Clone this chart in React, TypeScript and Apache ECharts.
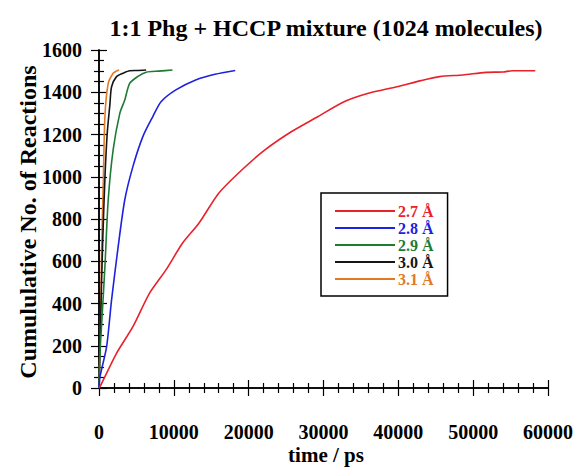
import React, { useEffect, useRef } from "react";
import * as echarts from "echarts";

const seriesNames = ["2.7 Å", "2.8 Å", "2.9 Å", "3.0 Å", "3.1 Å"];
const seriesColors = ["#e8212b", "#1c22e0", "#1f7a34", "#151515", "#e07a26"];

const t27 = [0, 130, 2340, 4530, 6740, 8950, 11150, 13350, 16000, 19080, 22170, 25690, 29220, 32750, 36000, 39790, 43000, 45520, 48610, 51690, 54000, 55220, 58300];
const v27 = [0, 6, 164, 290, 448, 559, 685, 780, 922, 1032, 1127, 1213, 1284, 1355, 1395, 1426, 1455, 1474, 1482, 1494, 1496, 1502, 1502];

const t28 = [0, 130, 1020, 1680, 2560, 3440, 4530, 5860, 7180, 8290, 10270, 12920, 15500, 18200];
const v28 = [0, 53, 196, 417, 669, 890, 1048, 1190, 1284, 1355, 1411, 1458, 1485, 1503];

const t29 = [0, 130, 400, 790, 1230, 1890, 2780, 3440, 4100, 5200, 6300, 8000, 9820];
const v29 = [0, 164, 330, 574, 890, 1127, 1300, 1363, 1442, 1475, 1495, 1500, 1505];

const t30 = [0, 200, 500, 800, 1100, 1450, 1680, 2340, 3200, 4100, 5200, 6300];
const v30 = [0, 300, 700, 1000, 1206, 1340, 1426, 1474, 1490, 1502, 1503, 1505];

const t31 = [0, 100, 220, 350, 570, 790, 1230, 1890, 2300, 2680];
const v31 = [0, 150, 338, 653, 969, 1284, 1442, 1490, 1500, 1505];

const xTicks = [0, 10000, 20000, 30000, 40000, 50000, 60000];
const yTicks = [0, 200, 400, 600, 800, 1000, 1200, 1400, 1600];

const titleText = "1:1 Phg + HCCP mixture (1024 molecules)";
const xName = "time / ps";
const yName = "Cumululative No. of Reactions";

const FONT = "'Liberation Serif', 'Times New Roman', serif";

export default function App() {
  const ref = useRef<HTMLDivElement>(null);
  useEffect(() => {
    if (!ref.current) return;
    const chart = echarts.init(ref.current, null, { renderer: "svg" });
    const times = [t27, t28, t29, t30, t31];
    const vals = [v27, v28, v29, v30, v31];
    const series = seriesNames.map((name, i) => ({
      name,
      type: "line",
      xAxisIndex: 0,
      yAxisIndex: 0,
      showSymbol: false,
      symbol: "none",
      smooth: 0.25,
      data: times[i].map((t, j) => [t, vals[i][j]]),
      lineStyle: { color: seriesColors[i], width: 1.6 },
      itemStyle: { color: seriesColors[i] },
      z: 10 - i,
    }));
    const xMin = xTicks[0];
    const xMax = xTicks[xTicks.length - 1];
    const yMin = yTicks[0];
    const yMax = yTicks[yTicks.length - 1];
    const axisLine = { show: true, lineStyle: { color: "#000", width: 1.5 } };
    const fmt = (v: number) => String(v);
    const mkX = (pos: string, labels: boolean) => ({
      type: "value",
      position: pos,
      min: xMin,
      max: xMax,
      interval: 10000,
      axisLine,
      axisTick: { show: true, inside: true, length: 8, lineStyle: { color: "#000", width: 1.2 } },
      minorTick: { show: true, splitNumber: 5, length: 5, lineStyle: { color: "#000", width: 1.2 } },
      splitLine: { show: false },
      minorSplitLine: { show: false },
      axisLabel: {
        show: labels,
        margin: 34,
        formatter: fmt,
        fontFamily: FONT,
        fontWeight: "bold",
        fontSize: 20,
        color: "#000",
      },
    });
    const mkY = (pos: string, labels: boolean) => ({
      type: "value",
      position: pos,
      min: yMin,
      max: yMax,
      interval: 200,
      axisLine,
      axisTick: { show: true, inside: true, length: 8, lineStyle: { color: "#000", width: 1.2 } },
      minorTick: { show: true, splitNumber: 4, length: 5, lineStyle: { color: "#000", width: 1.2 } },
      splitLine: { show: false },
      minorSplitLine: { show: false },
      axisLabel: {
        show: labels,
        margin: 17,
        formatter: fmt,
        fontFamily: FONT,
        fontWeight: "bold",
        fontSize: 20,
        color: "#000",
      },
    });
    chart.setOption({
      animation: false,
      backgroundColor: "#fff",
      grid: { left: 99, right: 23, top: 50, bottom: 80 },
      xAxis: [mkX("bottom", true), mkX("top", false)],
      yAxis: [mkY("left", true), mkY("right", false)],
      legend: {
        orient: "vertical",
        left: 321,
        top: 193,
        icon: "rect",
        itemWidth: 60,
        itemHeight: 2,
        itemGap: 1,
        padding: [10, 14, 9, 14],
        borderColor: "#000",
        borderWidth: 1.5,
        backgroundColor: "#fff",
        selectedMode: false,
        data: seriesNames.map((n, i) => ({
          name: n,
          textStyle: { color: seriesColors[i] },
        })),
        textStyle: {
          fontFamily: FONT,
          fontWeight: "bold",
          fontSize: 16,
          lineHeight: 16,
          padding: [0, 0, 0, -2],
        },
      },
      graphic: [
        {
          type: "text",
          x: 326,
          y: 28,
          style: {
            text: titleText,
            fontFamily: FONT,
            fontWeight: "bold",
            fontSize: 24,
            fill: "#000",
            textAlign: "center",
            textVerticalAlign: "middle",
          },
        },
        {
          type: "text",
          x: 326,
          y: 455,
          style: {
            text: xName,
            fontFamily: FONT,
            fontWeight: "bold",
            fontSize: 21,
            fill: "#000",
            textAlign: "center",
            textVerticalAlign: "middle",
          },
        },
        {
          type: "text",
          x: 28,
          y: 222,
          rotation: Math.PI / 2,
          style: {
            text: yName,
            fontFamily: FONT,
            fontWeight: "bold",
            fontSize: 24,
            fill: "#000",
            textAlign: "center",
            textVerticalAlign: "middle",
          },
        },
      ],
      series,
    });
    return () => chart.dispose();
  }, []);
  return (
    <div
      ref={ref}
      style={{ width: 576, height: 468, position: "absolute", left: 0, top: 0 }}
    />
  );
}
